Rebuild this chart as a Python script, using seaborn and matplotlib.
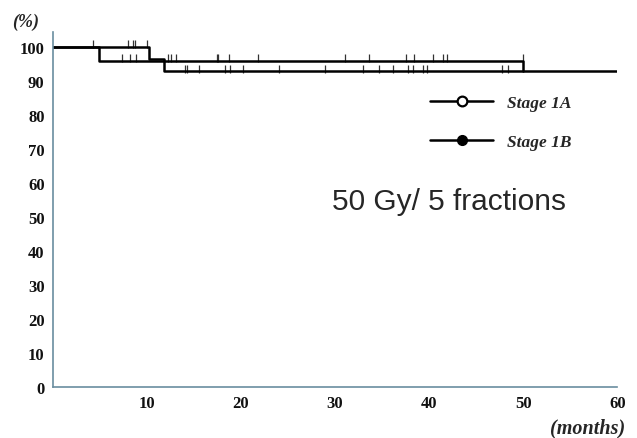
import matplotlib
matplotlib.use("Agg")
import matplotlib.pyplot as plt
from matplotlib.lines import Line2D
import seaborn as sns
import pandas as pd

# Kaplan-Meier step curves (months, %)
stage1a_t = [0, 10.2, 11.8, 60]
stage1a_s = [100, 96.5, 93.0, 93.0]
stage1b_t = [0, 4.9, 50.0, 50.0]
stage1b_s = [100, 95.9, 95.9, 93.0]

# censor marks
cens_1a_100_t = [4.3, 8.0, 8.5, 8.7, 10.0]
cens_1b_96_t = [7.3, 8.2, 8.8, 12.2, 12.6, 13.1, 17.4, 17.6, 18.7, 21.8, 31.1,
                33.6, 37.5, 38.4, 40.4, 41.5, 41.9, 50.0]
cens_1a_93_t = [14.0, 14.3, 15.5, 18.3, 18.8, 20.2, 24.0, 28.9, 33.0, 34.7,
                36.2, 37.8, 38.3, 39.4, 39.8, 47.8, 48.4]

x_ticks = [10, 20, 30, 40, 50, 60]
y_ticks = [0, 10, 20, 30, 40, 50, 60, 70, 80, 90, 100]

sns.set_style("white")
plt.rcParams['font.family'] = ['Liberation Serif', 'DejaVu Serif']

fig = plt.figure(figsize=(6.37, 4.39), dpi=100)
ax = fig.add_axes([0.083, 0.116, 0.886, 0.809])

df = pd.concat([
    pd.DataFrame({"t": stage1a_t, "s": stage1a_s, "g": "Stage 1A"}),
    pd.DataFrame({"t": stage1b_t, "s": stage1b_s, "g": "Stage 1B"}),
])
for g, d in df.groupby("g"):
    sns.lineplot(data=d, x="t", y="s", ax=ax, drawstyle="steps-post",
                 estimator=None, sort=False, color="black", lw=1.8, legend=False)

cdf = pd.concat([
    pd.DataFrame({"t": cens_1a_100_t, "s": 100.8}),
    pd.DataFrame({"t": cens_1b_96_t, "s": 96.6}),
    pd.DataFrame({"t": cens_1a_93_t, "s": 93.6}),
])
sns.scatterplot(data=cdf, x="t", y="s", ax=ax, marker="|", s=40,
                color="#333333", linewidth=0.9, legend=False)

ax.set_xlim(0, 60)
ax.set_ylim(0, 104.4)
ax.set_xticks(x_ticks)
ax.set_yticks(y_ticks)
ax.set_xlabel("")
ax.set_ylabel("")
for lab in ax.get_xticklabels() + ax.get_yticklabels():
    lab.set_fontweight("bold")
    lab.set_fontsize(12)
    lab.set_color("#111111")
ax.tick_params(axis="both", direction="in", length=4, width=1,
               color="#6a8ea0", pad=6)
for sp in ["top", "right"]:
    ax.spines[sp].set_visible(False)
for sp in ["left", "bottom"]:
    ax.spines[sp].set_color("#6a8ea0")
    ax.spines[sp].set_linewidth(1.2)

handles = [
    Line2D([0], [0], color="black", lw=1.8, marker="o", markersize=7,
           markerfacecolor="white", markeredgecolor="black", markeredgewidth=1.6),
    Line2D([0], [0], color="black", lw=1.8, marker="o", markersize=7,
           markerfacecolor="black", markeredgecolor="black"),
]
leg = ax.legend(handles, ["Stage 1A", "Stage 1B"], frameon=False,
                loc="center left", bbox_to_anchor=(0.641, 0.745),
                handlelength=3.6, labelspacing=1.3, handletextpad=0.8,
                prop={"style": "italic", "weight": "bold", "size": 12.5})

fig.text(0.019, 0.948, "(%)", fontsize=13, fontweight="bold", style="italic",
         ha="left", va="center")
fig.text(0.982, 0.025, "(months)", fontsize=14.5, fontweight="bold", style="italic",
         ha="right", va="center")
ax.text(0.495, 0.525, "50 Gy/ 5 fractions", transform=ax.transAxes,
        fontsize=21.5, family="Liberation Sans", ha="left", va="center")

fig.savefig("out.png", dpi=100)
